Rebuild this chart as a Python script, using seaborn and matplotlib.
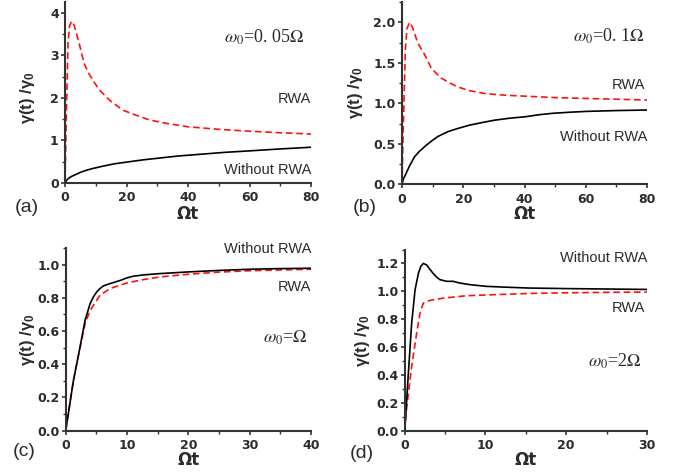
import matplotlib
matplotlib.use("Agg")
import matplotlib.pyplot as plt
import seaborn as sns
import pandas as pd
from matplotlib.ticker import MultipleLocator, FixedLocator

sns.set_theme(style="ticks")
plt.rcParams['font.family'] = ['Liberation Sans', 'DejaVu Sans']
plt.rcParams['mathtext.fontset'] = 'custom'
plt.rcParams['mathtext.rm'] = 'Liberation Sans:bold'
plt.rcParams['mathtext.it'] = 'Liberation Sans:bold'
plt.rcParams['mathtext.bf'] = 'Liberation Sans:bold'

# ---------------- data ----------------
a_rwa_t = [0, 0.5, 1.0, 1.5, 2.2, 3.0, 4.6, 6.2, 7.5, 9, 11, 14.4, 18.8, 23.2, 27.5, 33, 40, 50, 59, 70, 80]
a_rwa_v = [0, 1.8, 3.3, 3.7, 3.8, 3.7, 3.28, 2.81, 2.6, 2.42, 2.2, 1.95, 1.71, 1.59, 1.48, 1.40, 1.32, 1.26, 1.22, 1.18, 1.15]
a_wo_t = [0, 0.5, 1, 2, 3.5, 5, 7, 9, 12, 16, 20, 25, 30, 37, 45, 52, 59, 70, 80]
a_wo_v = [0, 0.06, 0.10, 0.15, 0.20, 0.25, 0.30, 0.34, 0.39, 0.45, 0.49, 0.54, 0.58, 0.635, 0.68, 0.72, 0.75, 0.80, 0.84]

b_rwa_t = [0, 0.3, 0.65, 1.1, 1.6, 2.5, 3.5, 5.2, 7.4, 9.6, 12.8, 17.7, 21.5, 27, 33.5, 39, 50, 60, 70, 80]
b_rwa_v = [0, 0.5, 1.04, 1.66, 1.92, 2.0, 1.93, 1.74, 1.6, 1.43, 1.31, 1.21, 1.16, 1.12, 1.10, 1.09, 1.07, 1.06, 1.05, 1.04]
b_wo_t = [0, 0.5, 1.4, 2.5, 4.1, 5.5, 7.4, 9.5, 11.7, 15, 18.3, 22, 25.9, 30, 35, 40.5, 45, 49.4, 55, 60.3, 70, 80]
b_wo_v = [0, 0.07, 0.14, 0.23, 0.34, 0.40, 0.465, 0.53, 0.59, 0.65, 0.69, 0.73, 0.76, 0.79, 0.815, 0.835, 0.86, 0.877, 0.89, 0.90, 0.91, 0.917]

c_wo_t = [0, 0.5, 1.25, 2.34, 3.16, 3.98, 4.5, 5.07, 5.6, 6.16, 7, 7.8, 9, 9.97, 11, 12.7, 15.4, 20, 25, 30, 35, 40]
c_wo_v = [0, 0.12, 0.30, 0.505, 0.665, 0.765, 0.805, 0.836, 0.856, 0.872, 0.883, 0.892, 0.906, 0.92, 0.93, 0.938, 0.946, 0.956, 0.965, 0.972, 0.976, 0.978]
c_rwa_t = [0, 0.5, 1.25, 2.34, 3.16, 4, 5.07, 5.6, 7.25, 10, 12.7, 15.4, 20, 25, 30, 35, 40]
c_rwa_v = [0, 0.12, 0.30, 0.50, 0.645, 0.725, 0.786, 0.816, 0.856, 0.89, 0.91, 0.926, 0.942, 0.955, 0.963, 0.968, 0.972]

d_wo_t = [0, 0.2, 0.45, 0.86, 1.28, 1.7, 2.0, 2.3, 2.7, 3.1, 3.5, 4.0, 4.36, 5.2, 6.0, 6.8, 8.1, 10.1, 12.6, 15.3, 20, 25, 30]
d_wo_v = [0, 0.18, 0.41, 0.77, 1.01, 1.13, 1.18, 1.2, 1.19, 1.16, 1.13, 1.10, 1.084, 1.072, 1.072, 1.06, 1.048, 1.036, 1.03, 1.024, 1.02, 1.017, 1.014]
d_rwa_t = [0, 0.25, 0.86, 1.48, 1.9, 2.3, 3.1, 4.8, 7.65, 10.9, 15.3, 20, 25, 30]
d_rwa_v = [0, 0.17, 0.46, 0.70, 0.845, 0.916, 0.935, 0.952, 0.969, 0.976, 0.985, 0.99, 0.993, 0.995]

panel_labels = ["(a)", "(b)", "(c)", "(d)"]
omega_labels = [r"$\omega_0$=0. 05$\Omega$", r"$\omega_0$=0. 1$\Omega$", r"$\omega_0$=$\Omega$", r"$\omega_0$=2$\Omega$"]
ylabel_text = r"$\gamma(t)\ /\gamma_0$"
xlabel_text = "Ωt"
rwa_text = "RWA"
wo_text = "Without RWA"
a_yticks = [0, 1, 2, 3, 4]
b_yticks = [0.0, 0.5, 1.0, 1.5, 2.0]
c_yticks = [0.0, 0.2, 0.4, 0.6, 0.8, 1.0]
d_yticks = [0.0, 0.2, 0.4, 0.6, 0.8, 1.0, 1.2]

# ---------------- layout ----------------
W, H = 679, 472
fig = plt.figure(figsize=(W / 100, H / 100), dpi=100)
fig.patch.set_facecolor("white")

def rect(l, r, t, b):
    return [l / W, 1 - b / H, (r - l) / W, (b - t) / H]

axes_rects = [rect(65, 311, 2, 183), rect(402, 647, 2, 184.3),
              rect(65.7, 311, 248, 430.7), rect(404.7, 647, 249.5, 431)]

panels = [
    dict(wo=(a_wo_t, a_wo_v), rwa=(a_rwa_t, a_rwa_v), xlim=(0, 80), ylim=(0, 4.25),
         xmaj=20, xmin=10, yt=a_yticks, ymin=0.5, yfmt="{:.0f}",
         om=(78, 3.43), rw=(80, 1.97), wo_pos=(80, 0.31),
         ylc=(-0.114, 0.47), xlc=-0.12),
    dict(wo=(b_wo_t, b_wo_v), rwa=(b_rwa_t, b_rwa_v), xlim=(0, 80), ylim=(0, 2.25),
         xmaj=20, xmin=10, yt=b_yticks, ymin=0.25, yfmt="{:.1f}",
         om=(79.3, 1.83), rw=(79.5, 1.226), wo_pos=(80, 0.578),
         ylc=(-0.151, 0.5), xlc=-0.116),
    dict(wo=(c_wo_t, c_wo_v), rwa=(c_rwa_t, c_rwa_v), xlim=(0, 40), ylim=(0, 1.1),
         xmaj=10, xmin=5, yt=c_yticks, ymin=0.1, yfmt="{:.1f}",
         om=(39.4, 0.559), rw=(40, 0.865), wo_pos=(40, 1.096),
         ylc=(-0.117, 0.5), xlc=-0.112),
    dict(wo=(d_wo_t, d_wo_v), rwa=(d_rwa_t, d_rwa_v), xlim=(0, 30), ylim=(0, 1.3),
         xmaj=10, xmin=5, yt=d_yticks, ymin=0.1, yfmt="{:.1f}",
         om=(29.3, 0.5025), rw=(29.8, 0.879), wo_pos=(30, 1.242),
         ylc=(-0.135, 0.5), xlc=-0.112),
]

txt_col = "#2b2b2b"
spine_col = "#333333"

for i, (p, r) in enumerate(zip(panels, axes_rects)):
    ax = fig.add_axes(r)
    ax.set_facecolor("white")
    df_wo = pd.DataFrame({"t": p["wo"][0], "v": p["wo"][1]})
    df_rw = pd.DataFrame({"t": p["rwa"][0], "v": p["rwa"][1]})
    sns.lineplot(data=df_rw, x="t", y="v", ax=ax, color="#ff1010", lw=1.2,
                 linestyle=(0, (4.0, 2.2)), estimator=None, sort=False)
    sns.lineplot(data=df_wo, x="t", y="v", ax=ax, color="black", lw=1.2,
                 estimator=None, sort=False)
    for s in ["top", "right"]:
        ax.spines[s].set_visible(False)
    for s in ["left", "bottom"]:
        ax.spines[s].set_color(spine_col)
        ax.spines[s].set_linewidth(1.5)
    ax.xaxis.set_major_locator(MultipleLocator(p["xmaj"]))
    ax.xaxis.set_minor_locator(MultipleLocator(p["xmin"]))
    ax.yaxis.set_major_locator(FixedLocator(p["yt"]))
    ax.yaxis.set_minor_locator(MultipleLocator(p["ymin"]))
    ax.set_yticklabels([p["yfmt"].format(v) for v in p["yt"]])
    ax.set_xlim(*p["xlim"])
    ax.set_ylim(*p["ylim"])
    ax.tick_params(which="major", direction="out", length=3, width=1.2, color=spine_col,
                   labelsize=9, labelcolor=txt_col)
    ax.tick_params(axis="y", which="major", pad=1.5)
    ax.tick_params(axis="x", which="major", pad=3)
    ax.tick_params(which="minor", direction="out", length=2, width=1.0, color=spine_col)
    for lab in ax.get_xticklabels() + ax.get_yticklabels():
        lab.set_fontweight("bold")
        lab.set_family("DejaVu Sans")
    ax.set_xlabel(xlabel_text, fontsize=12, fontweight="bold", color=txt_col,
                  family="DejaVu Sans")
    ax.set_ylabel(ylabel_text, fontsize=12, color=txt_col)
    ax.xaxis.set_label_coords(0.5, p["xlc"])
    ax.yaxis.set_label_coords(*p["ylc"])
    ax.grid(False)

    ax.text(*p["om"], omega_labels[i], ha="right", va="center", fontsize=13,
            color=txt_col, math_fontfamily="stix", family="Liberation Serif")
    ax.text(*p["rw"], rwa_text, ha="right", va="center", fontsize=10.5, color=txt_col)
    ax.text(*p["wo_pos"], wo_text, ha="right", va="center", fontsize=10.5, color=txt_col,
            clip_on=False)

# panel labels
fig.text(15 / W, 1 - 207 / H, panel_labels[0], fontsize=14, color=txt_col, va="center")
fig.text(353 / W, 1 - 207 / H, panel_labels[1], fontsize=14, color=txt_col, va="center")
fig.text(13 / W, 1 - 452 / H, panel_labels[2], fontsize=14, color=txt_col, va="center")
fig.text(350 / W, 1 - 453 / H, panel_labels[3], fontsize=14, color=txt_col, va="center")

fig.savefig("out.png", dpi=100, facecolor="white")
